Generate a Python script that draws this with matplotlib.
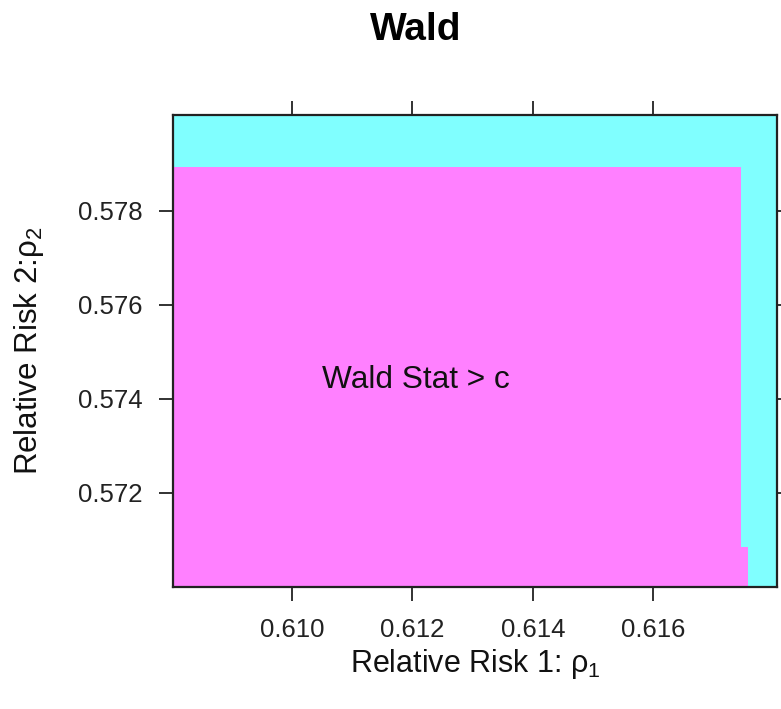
import matplotlib
matplotlib.use("Agg")
import matplotlib.pyplot as plt
import numpy as np
from matplotlib.colors import ListedColormap

plt.rcParams['font.family'] = ['Liberation Sans', 'DejaVu Sans']
plt.rcParams['mathtext.fontset'] = 'custom'
plt.rcParams['mathtext.rm'] = 'Liberation Sans'
plt.rcParams['mathtext.it'] = 'Liberation Sans'

# grid edges (rho1 on x, rho2 on y)
rho1_edges = [0.60802, 0.61746, 0.61758, 0.61806]
rho2_edges = [0.57000, 0.57085, 0.57894, 0.58004]
# 1 = Wald Stat > c, 0 = otherwise (rows = rho2 bands from bottom)
reject = [[1, 1, 0],
          [1, 0, 0],
          [0, 0, 0]]
xticks = [0.610, 0.612, 0.614, 0.616]
yticks = [0.572, 0.574, 0.576, 0.578]

fig = plt.figure(figsize=(7.81, 7.09), dpi=100)
ax = fig.add_axes([0.2215, 0.1721, 0.9949 - 0.2215, 0.8378 - 0.1721])

cmap = ListedColormap(['#80FFFF', '#FF80FF'])
ax.pcolormesh(rho1_edges, rho2_edges, np.array(reject), cmap=cmap, vmin=0, vmax=1)

ax.set_xlim(rho1_edges[0], rho1_edges[-1])
ax.set_ylim(rho2_edges[0], rho2_edges[-1])
ax.set_xticks(xticks)
ax.set_yticks(yticks)
ax.set_xticklabels(['%.3f' % v for v in xticks])
ax.set_yticklabels(['%.3f' % v for v in yticks])
ax.tick_params(direction='out', length=10, width=1.3, labelsize=18.5,
               top=True, right=True, pad=12, colors='#222222')

for s in ax.spines.values():
    s.set_linewidth(1.6)
    s.set_color('#222222')

ax.text(0.61206, 0.5744, 'Wald Stat > c', fontsize=22.8, ha='center', va='center', color='#111111')

ax.set_xlabel('Relative Risk 1: ρ$_1$', fontsize=22, labelpad=4, color='#111111')
ax.set_ylabel('Relative Risk 2:ρ$_2$', fontsize=22.5, labelpad=23, color='#111111')
fig.text(0.532, 0.958, 'Wald', fontsize=28, fontweight='bold', ha='center', va='center')

fig.savefig('out.png', dpi=100)
